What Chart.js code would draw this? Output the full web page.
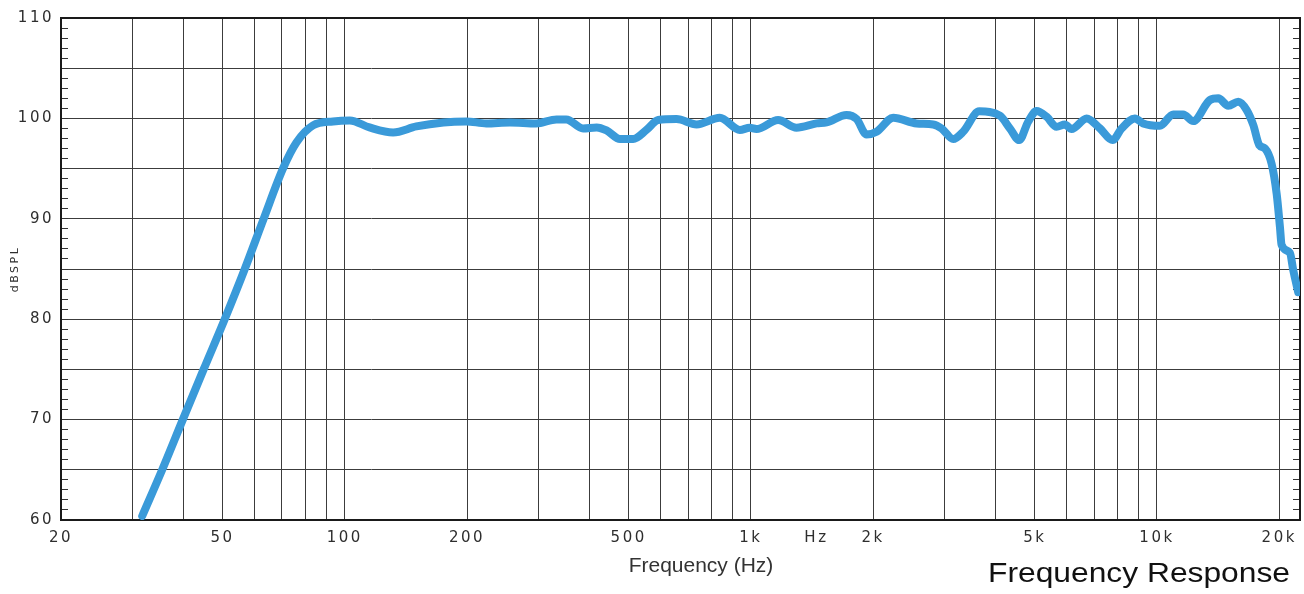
<!DOCTYPE html>
<html><head><meta charset="utf-8">
<script src="https://cdn.jsdelivr.net/npm/chart.js@4.4.1/dist/chart.umd.min.js"></script>
<style>html,body{margin:0;padding:0;background:#fff;}#wrap{width:1304px;height:594px;}</style>
</head><body><div id="wrap"><canvas id="c" width="1304" height="594"></canvas></div>
<script>
const freqHz = [31.7,35.5,39.9,44.9,50.6,56.7,63.1,70.4,76.0,83.5,93.5,102.8,115,131.5,150,175,199,223,255,296,332,351,386,417,441,476,513,553,591,656,735,838,939,993,1032,1167,1295,1451,1536,1720,1821,1926,2039,2241,2559,2812,2949,3149,3332,3650,4103,4343,4578,4817,5051,5347,5659,5932,6161,6711,7237,7775,8182,8824,9246,10170,10965,11604,12283,13503,14155,14980,15855,16630,17264,17861,18450,19150,19710,20080,20270,21250,21650,22270];
const splDb = [60.4,65,70,75,80,85,90,95,97.6,99.3,99.7,99.8,99.1,98.6,99.2,99.6,99.7,99.5,99.6,99.5,99.9,99.9,99.0,99.1,98.8,97.95,97.95,98.85,99.84,99.94,99.4,100.07,98.85,99.07,98.94,99.84,99.07,99.5,99.6,100.34,99.94,98.4,98.67,100.07,99.5,99.4,99.0,97.95,98.67,100.7,100.27,99.0,97.84,99.67,100.73,100.17,99.17,99.4,98.94,100.0,99.0,97.84,99.0,100.0,99.5,99.27,100.4,100.4,99.73,101.83,102.0,101.26,101.66,100.83,99.34,97.34,97.0,95.5,92.5,89.2,87.4,86.6,84.9,82.7];
const xGridHz = [20,30,40,50,60,70,80,90,100,200,300,400,500,600,700,800,900,1000,1450,2000,3000,4000,5000,6000,7000,8000,9000,10000,20000];
const xTickLabels = {20:'20',50:'50',100:'100',200:'200',500:'500',1000:'1k',1450:'Hz',2000:'2k',5000:'5k',10000:'10k',20000:'20k'};
const yTickValues = [60,61,62,63,64,65,66,67,68,69,70,71,72,73,74,75,76,77,78,79,80,81,82,83,84,85,86,87,88,89,90,91,92,93,94,95,96,97,98,99,100,101,102,103,104,105,106,107,108,109,110];
const yLabelStep = 10;
const yGridStep = 5;
const xTitleText = 'Frequency (Hz)';
const yTitleText = 'dBSPL';
const captionText = 'Frequency Response';

const GRID = '#3c3c3c';
const FRAME = '#1a1a1a';
const TXT = '#2e2e2e';
const tickFont = {family:'"DejaVu Sans", sans-serif', size:15};

const spacingPlugin = {
  id:'spacing',
  beforeDraw(chart){ chart.ctx.letterSpacing = '2.5px'; },
  afterDraw(chart){
    const ctx = chart.ctx;
    ctx.save();
    ctx.letterSpacing = '0px';
    ctx.fillStyle = '#333';
    ctx.font = '21px "Liberation Sans", Arial, sans-serif';
    ctx.textAlign = 'center';
    ctx.textBaseline = 'alphabetic';
    ctx.fillText(xTitleText, 701, 572);
    ctx.fillStyle = '#111';
    ctx.font = '27px "Liberation Sans", Arial, sans-serif';
    const w = ctx.measureText(captionText).width;
    const target = 302;
    ctx.translate(988, 582);
    ctx.scale(target / w, 1);
    ctx.textAlign = 'left';
    ctx.fillText(captionText, 0, 0);
    ctx.restore();
  }
};

new Chart(document.getElementById('c'), {
  type:'line',
  data:{datasets:[{
    data: freqHz.map((f,i)=>({x:f, y:splDb[i]})),
    xAxisID:'x', yAxisID:'y',
    borderColor:'#3a9ad9', borderWidth:8, pointRadius:0,
    borderCapStyle:'round', borderJoinStyle:'round',
    cubicInterpolationMode:'monotone', fill:false
  }]},
  options:{
    responsive:false, animation:false, devicePixelRatio:1,
    layout:{padding:0},
    plugins:{legend:{display:false}, tooltip:{enabled:false}},
    scales:{
      x:{
        type:'logarithmic', position:'bottom', min:20, max:22500,
        afterBuildTicks:s=>{ s.ticks = xGridHz.map(v=>({value:v})); },
        afterFit:s=>{ s.height = 74; s.paddingLeft = 0; s.paddingRight = 0; },
        ticks:{autoSkip:false, maxRotation:0, minRotation:0, padding:9, color:TXT, font:tickFont,
          callback:(v)=> (xTickLabels[v] !== undefined ? xTickLabels[v] : '')},
        grid:{color:c=> (c.tick && c.tick.value===1450) ? 'rgba(0,0,0,0)' : GRID, lineWidth:1, drawTicks:false},
        border:{color:FRAME, width:2}
      },
      xTop:{
        type:'linear', position:'top', min:0, max:1,
        afterFit:s=>{ s.height = 18; },
        ticks:{display:false},
        grid:{drawOnChartArea:false, drawTicks:false},
        border:{color:FRAME, width:2}
      },
      y:{
        type:'linear', position:'left', min:60, max:110,
        afterBuildTicks:s=>{ s.ticks = yTickValues.map(v=>({value:v})); },
        afterFit:s=>{ s.width = 61; s.paddingTop = 0; s.paddingBottom = 0; },
        ticks:{autoSkip:false, padding:14, color:TXT, font:tickFont,
          callback:v=> (v % yLabelStep === 0 ? String(v) : '')},
        grid:{color:c=> (c.tick && c.tick.value % yGridStep === 0) ? GRID : 'rgba(0,0,0,0)',
          tickColor:'#333', tickLength:-7, drawTicks:true, lineWidth:1},
        border:{color:FRAME, width:2},
        title:{display:true, text:yTitleText, color:TXT, font:{family:'"DejaVu Sans", sans-serif', size:11}, padding:{top:9, bottom:0}}
      },
      yR:{
        type:'linear', position:'right', min:60, max:110,
        afterBuildTicks:s=>{ s.ticks = yTickValues.map(v=>({value:v})); },
        afterFit:s=>{ s.width = 4; s.paddingTop = 0; s.paddingBottom = 0; },
        ticks:{display:false},
        grid:{drawOnChartArea:false, tickColor:'#333', tickLength:-7, drawTicks:true},
        border:{color:FRAME, width:2}
      }
    }
  },
  plugins:[spacingPlugin]
});
</script>
</body></html>
